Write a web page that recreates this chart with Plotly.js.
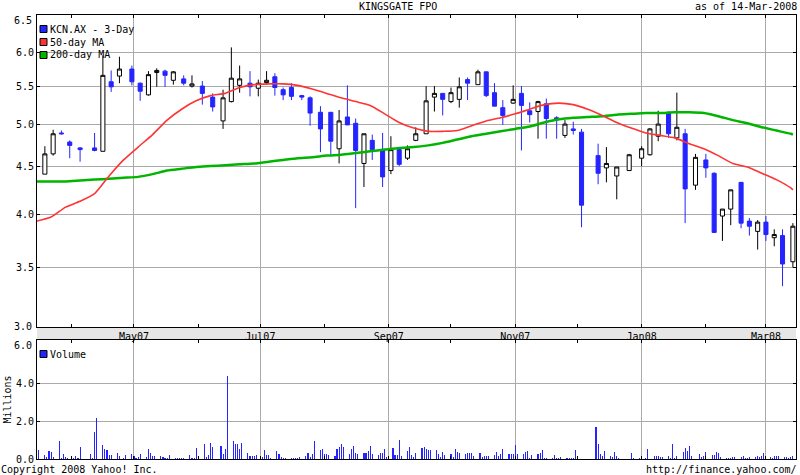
<!DOCTYPE html>
<html><head><meta charset="utf-8">
<script src="https://cdn.plot.ly/plotly-3.0.1.min.js"></script>
<style>html,body{margin:0;padding:0;background:#fff}#chart{width:800px;height:475px}</style>
</head><body><div id="chart"></div>
<script>
// ---- 3-day candles ----
const candleDates = ['2007-03-19','2007-03-23','2007-03-27','2007-03-31','2007-04-05','2007-04-12','2007-04-16','2007-04-20','2007-04-24','2007-04-30',
'2007-05-04','2007-05-08','2007-05-12','2007-05-16','2007-05-20','2007-05-25','2007-05-29','2007-06-03','2007-06-08','2007-06-13',
'2007-06-17','2007-06-21','2007-06-26','2007-06-30','2007-07-04','2007-07-08','2007-07-12','2007-07-16','2007-07-21','2007-07-25',
'2007-07-30','2007-08-04','2007-08-08','2007-08-12','2007-08-16','2007-08-20','2007-08-24','2007-08-29','2007-09-02','2007-09-06',
'2007-09-10','2007-09-14','2007-09-19','2007-09-23','2007-09-27','2007-10-01','2007-10-05','2007-10-09','2007-10-14','2007-10-18',
'2007-10-22','2007-10-26','2007-10-31','2007-11-04','2007-11-08','2007-11-12','2007-11-16','2007-11-21','2007-11-25','2007-11-29',
'2007-12-03','2007-12-11','2007-12-15','2007-12-20','2007-12-26','2008-01-01','2008-01-05','2008-01-09','2008-01-14','2008-01-18',
'2008-01-22','2008-01-27','2008-02-01','2008-02-05','2008-02-09','2008-02-13','2008-02-18','2008-02-22','2008-02-26','2008-03-01',
'2008-03-05','2008-03-09','2008-03-14'];
const openP = [4.42,4.65,4.90,4.79,4.72,4.72,4.68,5.57,5.65,5.75,
5.55,5.39,5.70,5.72,5.59,5.61,5.51,5.51,5.36,5.05,
5.30,5.52,5.55,5.48,5.56,5.64,5.46,5.49,5.38,5.35,
5.16,5.16,4.71,5.10,5.02,4.54,4.81,4.70,4.46,4.70,
4.60,4.81,4.89,5.36,5.41,5.30,5.33,5.60,5.53,5.71,
5.42,5.22,5.28,5.41,5.18,5.17,5.27,5.09,4.87,4.95,
4.91,4.63,4.49,4.40,4.46,4.60,4.64,4.86,5.16,4.84,
4.89,4.30,4.58,4.43,3.98,4.05,4.33,3.93,3.83,3.92,
3.77,3.79,3.55];
const highP = [4.74,4.94,4.93,4.81,4.73,4.90,5.95,5.73,5.93,5.80,
5.56,5.72,5.76,5.74,5.72,5.66,5.66,5.58,5.41,5.46,
6.07,5.80,5.72,5.60,5.72,5.69,5.49,5.55,5.39,5.37,
5.24,5.16,5.19,5.52,5.08,4.89,4.88,4.90,4.86,4.73,
4.75,4.97,5.51,5.51,5.41,5.49,5.63,5.63,5.74,5.71,
5.55,5.32,5.52,5.51,5.29,5.31,5.34,5.11,5.06,5.04,
4.95,4.77,4.73,4.50,4.65,4.74,4.96,5.18,5.17,5.42,
4.95,4.65,4.65,4.44,4.05,4.25,4.33,3.96,3.94,3.98,
3.85,3.85,3.91];
const lowP = [4.42,4.63,4.88,4.60,4.56,4.68,4.68,5.43,5.55,5.52,
5.31,5.38,5.50,5.50,5.53,5.52,5.49,5.26,5.17,4.95,
5.29,5.42,5.37,5.37,5.53,5.38,5.32,5.32,5.32,4.99,
4.67,4.64,4.54,5.00,4.06,4.28,4.58,4.28,4.42,4.51,
4.58,4.80,4.89,5.17,5.12,5.28,5.22,5.32,5.53,5.36,
5.24,5.00,5.27,4.69,5.03,4.83,4.83,4.83,4.84,4.88,
3.87,4.31,4.33,4.15,4.46,4.51,4.63,4.80,4.84,4.81,
3.91,4.25,4.38,3.82,3.74,3.89,3.86,3.79,3.66,3.74,
3.69,3.34,3.50];
const closeP = [4.65,4.89,4.89,4.75,4.70,4.69,5.66,5.50,5.75,5.57,
5.44,5.67,5.73,5.66,5.71,5.55,5.54,5.41,5.23,5.35,
5.62,5.61,5.50,5.55,5.59,5.49,5.39,5.37,5.36,5.15,
4.95,4.80,5.05,5.00,4.69,4.89,4.70,4.39,4.70,4.53,
4.71,4.89,5.31,5.41,5.33,5.42,5.50,5.55,5.71,5.38,
5.24,5.12,5.33,5.25,5.13,5.30,5.08,5.06,5.01,4.93,
4.09,4.43,4.54,4.50,4.64,4.71,4.95,5.01,4.89,4.97,
4.26,4.61,4.49,3.82,4.05,4.25,3.91,3.88,3.92,3.80,
3.80,3.53,3.88];

// ---- moving averages (sampled weekly) ----
const maDates = ['2007-03-15','2007-03-22','2007-03-29','2007-04-05','2007-04-12','2007-04-19','2007-04-26','2007-05-03','2007-05-10','2007-05-17',
'2007-05-24','2007-05-31','2007-06-07','2007-06-14','2007-06-21','2007-06-28','2007-07-05','2007-07-12','2007-07-19','2007-07-26',
'2007-08-02','2007-08-09','2007-08-16','2007-08-23','2007-08-30','2007-09-06','2007-09-13','2007-09-20','2007-09-27','2007-10-04',
'2007-10-11','2007-10-18','2007-10-25','2007-11-01','2007-11-08','2007-11-15','2007-11-22','2007-11-29','2007-12-06','2007-12-13',
'2007-12-20','2007-12-27','2008-01-03','2008-01-10','2008-01-17','2008-01-24','2008-01-31','2008-02-07','2008-02-14','2008-02-21',
'2008-02-28','2008-03-06','2008-03-13','2008-03-14'];
const ma50 = [3.93,3.97,4.07,4.13,4.21,4.40,4.58,4.73,4.88,5.06,
5.20,5.31,5.38,5.41,5.49,5.53,5.54,5.54,5.52,5.47,
5.41,5.35,5.30,5.25,5.14,5.03,4.96,4.92,4.92,4.93,
4.99,5.05,5.09,5.14,5.20,5.26,5.28,5.26,5.20,5.12,
5.03,4.96,4.90,4.87,4.84,4.77,4.71,4.63,4.54,4.50,
4.43,4.36,4.27,4.25];
const ma200 = [4.34,4.34,4.34,4.35,4.36,4.37,4.38,4.39,4.42,4.46,
4.48,4.50,4.51,4.52,4.53,4.54,4.56,4.58,4.60,4.61,
4.63,4.64,4.66,4.68,4.70,4.72,4.73,4.75,4.78,4.82,
4.86,4.89,4.92,4.95,4.98,5.03,5.07,5.09,5.10,5.11,
5.13,5.14,5.15,5.15,5.16,5.16,5.15,5.11,5.06,5.02,
4.97,4.93,4.89,4.88];

// ---- daily volume (millions) on ASX trading days ----
const volStart = '2007-03-15', volEnd = '2008-03-14';
const holidays = ['2007-04-06','2007-04-09','2007-04-25','2007-06-11','2007-12-25','2007-12-26','2008-01-01','2008-01-28'];
const volumeM = [0.96,0.47,0.20,0.09,0.42,0.36,0.09,0.96,0.05,0.24,0.09,0.02,0.03,0.15,0.05,0.64,
0.24,0.05,1.45,2.18,0.75,0.53,0.47,0.20,0.20,0.31,0.15,
0.05,0.20,0.29,0.18,0.05,0.09,0.24,0.09,0.53,0.31,0.15,0.15,0.15,0.09,0.03,0.03,0.20,0.03,0.05,0.05,0.05,0.05,0.20,0.04,0.02,0.58,
0.00,0.80,0.13,0.20,0.85,0.64,0.69,0.25,0.53,4.38,
0.96,0.80,0.80,0.53,0.85,0.31,0.15,0.15,0.15,0.20,0.09,0.47,0.20,0.20,0.03,0.42,0.25,0.09,0.05,0.05,0.05,0.03,0.03,0.05,0.09,0.15,0.31,0.09,0.25,0.96,
0.47,0.53,0.25,0.25,0.20,0.15,0.53,0.64,0.80,0.64,0.25,0.53,0.69,0.31,0.25,0.31,0.31,0.42,0.69,0.25,0.20,0.31,0.31,0.53,0.09,0.58,0.20,0.20,
1.02,0.15,0.42,0.64,0.20,0.09,0.31,0.58,0.64,0.53,0.47,0.47,0.47,0.25,0.09,0.36,0.20,0.25,0.09,0.53,0.36,0.31,0.25,0.31,0.31,0.31,0.15,0.31,0.09,0.15,
0.15,0.15,0.20,0.36,0.15,0.25,0.53,0.25,0.25,0.25,0.75,0.25,0.25,0.36,0.42,0.04,0.20,0.25,0.31,0.47,0.04,0.04,0.02,0.20,0.01,0.03,0.07,0.04,0.04,0.01,0.04,0.47,
0,0,0,0,0,
1.67,0.78,0.24,0.15,0.42,0.15,0.09,0.36,0.15,0.02,0,
0.31,0.01,0.02,
0,0.04,0.53,0.15,0.15,0.15,0.09,0.09,0.15,0.04,0.80,0.04,0.15,0.36,0.58,0.42,0.69,0.15,0.25,0.09,0.15,
0.36,0.20,0.20,0.36,0.31,0.09,0.04,0.04,0.04,0.09,0.09,0.09,0.15,0.04,0.04,0.09,0.09,0.15,0.09,0.15,0.31,
0.09,0.04,0.15,0.15,0.15,0.09,0.09,0.04,0.09,0.15];

// ---- tick labels ----
const priceTicks = [3.5,4.0,4.5,5.0,5.5,6.0];
const priceTickText = ['3.5','4.0','4.5','5.0','5.5','6.0'];
const volTicks = [0,2,4];
const volTickText = ['0.0','2.0','4.0'];

function tradingDays(start, end, skip){
  const out=[]; let t=Date.parse(start+'T00:00:00Z'); const e=Date.parse(end+'T00:00:00Z');
  while(t<=e){ const d=new Date(t); const w=d.getUTCDay(); const s=d.toISOString().slice(0,10);
    if(w!==0 && w!==6 && skip.indexOf(s)<0) out.push(s); t+=86400000; }
  return out;
}
const volDates = tradingDays(volStart, volEnd, holidays);

const BLUE='#2424ff', RED='#ff3333', GREEN='#00b400', GRID='#aaaaaa';
const F = {family:'DejaVu Sans Mono, monospace', size:10, color:'#000'};

const traces = [
  {type:'candlestick', x:candleDates, open:openP, high:highP, low:lowP, close:closeP, xaxis:'x', yaxis:'y',
   increasing:{line:{color:'#000',width:1}, fillcolor:'#ffffff'},
   decreasing:{line:{color:BLUE,width:1}, fillcolor:BLUE}, whiskerwidth:0, hoverinfo:'skip'},
  {type:'scatter', mode:'lines', x:maDates, y:ma200, line:{color:GREEN,width:2.5,shape:'spline',smoothing:0.6}, xaxis:'x', yaxis:'y', hoverinfo:'skip'},
  {type:'scatter', mode:'lines', x:maDates, y:ma50, line:{color:RED,width:1.6,shape:'spline',smoothing:0.6}, xaxis:'x', yaxis:'y', hoverinfo:'skip'},
  {type:'bar', x:volDates, y:volumeM, width:86400000*0.05, marker:{color:BLUE,line:{width:0}}, xaxis:'x2', yaxis:'y2', hoverinfo:'skip'}
];

const xCommon = {type:'date', tickmode:'linear', tick0:'2007-05-01', dtick:'M2', tickformat:'%b%y',
  ticks:'inside', ticklen:3, tickcolor:'#000', showgrid:true, gridcolor:GRID, gridwidth:1,
  showline:true, linecolor:'#000', linewidth:1, mirror:'ticks', zeroline:false, fixedrange:true,
  minor:{tick0:'2007-04-01', dtick:'M1', ticks:'inside', ticklen:3, tickcolor:'#000', showgrid:false},
  tickfont:F};

function px2x(px){return (px-37)/759;}
function py2y(py){return (459-py)/444;}

const ann = (text,x,y,xa,ya,extra)=>Object.assign({text:text, xref:'paper', yref:'paper', x:x, y:y, xanchor:xa, yanchor:ya, showarrow:false, font:F, borderpad:0}, extra||{});

const legendRows = [
  {t:'KCN.AX - 3-Day', c:BLUE, py:29},
  {t:'50-day MA', c:RED, py:42},
  {t:'200-day MA', c:GREEN, py:55},
  {t:'Volume', c:BLUE, py:354}
];

const shapes = [
  {type:'rect', xref:'paper', yref:'paper', x0:0, x1:1, y0:py2y(340), y1:py2y(327), fillcolor:'#e6e6e6', line:{width:0}, layer:'below'}
];
const annotations = [
  ann('KINGSGATE FPO', px2x(398), py2y(7), 'center','middle'),
  ann('as of 14-Mar-2008', px2x(798), py2y(7), 'right','middle'),
  ann('Copyright 2008 Yahoo! Inc.', px2x(0), py2y(469), 'left','middle'),
  ann('http://finance.yahoo.com/', px2x(798), py2y(469), 'right','middle'),
  ann('6.5', px2x(33), py2y(20), 'right','middle'),
  ann('3.0', px2x(33), py2y(327), 'right','middle'),
  ann('6.0', px2x(33), py2y(345), 'right','middle')
];
legendRows.forEach(r=>{
  shapes.push({type:'rect', xref:'paper', yref:'paper', x0:px2x(40), x1:px2x(47), y0:py2y(r.py+3.5), y1:py2y(r.py-3.5), fillcolor:r.c, line:{color:'#000',width:1}});
  annotations.push(ann(r.t, px2x(49), py2y(r.py), 'left','middle'));
});

const layout = {
  width:800, height:475, margin:{l:37,r:4,t:15,b:16,pad:0}, paper_bgcolor:'#fff', plot_bgcolor:'#fff',
  showlegend:false, font:F, dragmode:false, hovermode:false,
  xaxis:Object.assign({}, xCommon, {domain:[0,1], anchor:'y', range:['2007-03-15 05:00','2008-03-15 12:00'], rangeslider:{visible:false}, showticklabels:true}),
  yaxis:{type:'log', domain:[py2y(327),1], anchor:'x', range:[0.4793,0.8184], tickmode:'array', tickvals:priceTicks, ticktext:priceTickText,
    ticks:'inside', ticklen:3, tickcolor:'#000', showgrid:true, gridcolor:GRID, gridwidth:1, showline:true, linecolor:'#000', linewidth:1, mirror:'ticks', zeroline:false, tickfont:F, fixedrange:true},
  xaxis2:Object.assign({}, xCommon, {domain:[0,1], anchor:'y2', matches:'x', showticklabels:false}),
  yaxis2:{domain:[0,py2y(340)], anchor:'x2', range:[0,6.3], tickmode:'array', tickvals:volTicks, ticktext:volTickText,
    ticks:'inside', ticklen:3, tickcolor:'#000', showgrid:true, gridcolor:GRID, gridwidth:1, showline:true, linecolor:'#000', linewidth:1, mirror:'ticks', zeroline:false, tickfont:F, fixedrange:true,
    title:{text:'Millions', font:F, standoff:2}},
  shapes:shapes, annotations:annotations, bargap:0
};
Plotly.newPlot('chart', traces, layout, {displayModeBar:false, responsive:false});
</script></body></html>
